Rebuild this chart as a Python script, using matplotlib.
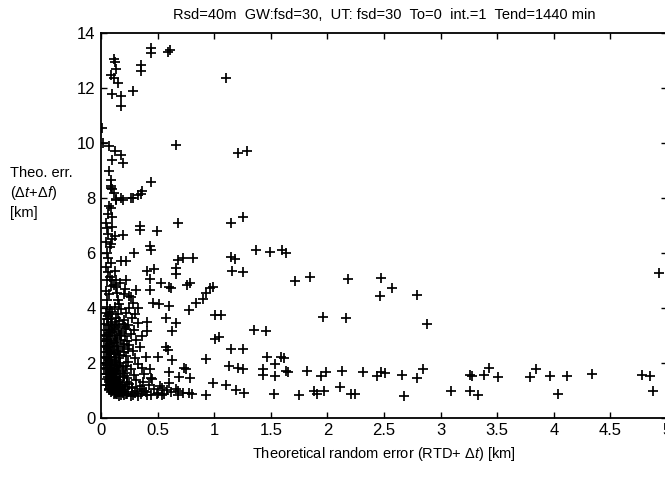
import matplotlib.pyplot as plt

plt.rcParams['font.family'] = ['Liberation Sans', 'DejaVu Sans']
plt.rcParams['mathtext.fontset'] = 'custom'
plt.rcParams['mathtext.rm'] = 'Liberation Sans'
plt.rcParams['mathtext.it'] = 'Liberation Sans:italic'

# --- data: sparse upper / right points ---
x_sparse = [0.11, 0.12, 0.13, 0.09, 0.11, 0.15, 0.10, 0.18, 0.18, 0.28, 0.35, 0.35,
            0.44, 0.44, 0.61, 0.59, 1.10, 0.01, 0.02, 0.07, 0.12, 0.18, 0.19, 0.10,
            0.66, 1.21, 1.29, 0.07, 0.09, 0.09, 0.10, 0.44, 0.35, 0.33, 0.26, 0.18,
            0.13, 0.11, 0.09, 0.13, 0.19, 0.28, 0.36, 0.09, 0.10, 0.10, 0.34, 0.34,
            0.49, 0.68, 1.15, 1.25, 0.12, 0.19, 0.09, 0.43, 0.44, 0.29, 0.18, 0.12,
            0.22, 0.68, 0.72, 0.81, 0.66, 0.66, 0.41, 0.47, 0.43, 1.15, 1.18, 1.16,
            1.25, 1.37, 1.49, 1.60, 0.10, 0.22, 0.13, 0.53, 0.60, 0.62, 0.76, 0.79,
            0.96, 0.99, 0.93, 0.90, 0.84, 0.25, 0.31, 0.43, 0.28, 0.46, 0.51, 0.60,
            0.78, 1.01, 1.06, 0.57, 0.66, 0.63, 0.41, 0.41, 1.01, 1.04, 1.35, 1.46,
            1.15, 1.25, 1.47, 1.59, 0.57, 0.59, 0.50, 0.63, 0.93, 0.73, 0.75, 1.13,
            1.21, 1.25, 1.43, 1.54, 1.43, 1.54, 1.63, 0.60, 0.69, 0.79, 0.60, 0.99,
            1.10, 1.19, 1.26, 1.53, 0.93, 0.78, 0.68, 0.54, 0.49, 0.43, 0.44, 0.37]
y_sparse = [13.07, 12.96, 12.68, 12.46, 12.35, 12.18, 11.79, 11.73, 11.34, 11.88, 12.85, 12.63,
            13.46, 13.26, 13.39, 13.30, 12.35, 10.56, 10.00, 9.89, 9.72, 9.55, 9.27, 9.39,
            9.94, 9.64, 9.72, 9.00, 8.66, 8.44, 8.32, 8.60, 8.16, 8.10, 8.00, 8.00,
            7.95, 8.20, 8.35, 7.94, 7.94, 8.00, 8.25, 7.65, 7.31, 6.96, 6.98, 6.85,
            6.79, 7.08, 7.08, 7.31, 6.62, 6.67, 6.33, 6.27, 6.10, 6.00, 5.69, 5.35,
            5.69, 5.75, 5.83, 5.83, 5.46, 5.23, 5.35, 5.40, 5.06, 5.87, 5.79, 5.35,
            5.29, 6.10, 6.04, 6.10, 5.00, 5.00, 4.77, 4.89, 4.77, 4.71, 4.83, 4.89,
            4.71, 4.77, 4.54, 4.31, 4.19, 4.42, 4.65, 4.65, 4.19, 4.19, 4.14, 4.08,
            3.91, 3.73, 3.73, 3.62, 3.44, 3.15, 3.50, 3.15, 2.87, 2.93, 3.21, 3.15,
            2.52, 2.52, 2.23, 2.23, 2.58, 2.46, 2.23, 2.12, 2.14, 1.83, 1.77, 1.89,
            1.83, 1.79, 1.77, 1.94, 1.54, 1.52, 1.71, 1.66, 1.48, 1.46, 1.25, 1.25,
            1.20, 1.02, 0.91, 0.85, 0.83, 0.91, 0.96, 1.08, 0.85, 1.77, 1.43, 1.31]

# --- points right of x = 1.6 ---
x_right = [1.63, 1.71, 1.85, 2.18, 2.47, 2.57, 2.46, 2.79, 1.96, 2.16, 2.88, 4.93,
           1.62, 1.65, 1.82, 1.94, 1.99, 2.13, 2.31, 2.44, 2.47, 2.51, 2.66, 2.79,
           2.84, 3.26, 3.28, 3.38, 3.43, 3.51, 3.79, 3.84, 3.97, 4.12, 4.34, 4.78,
           4.85, 4.88, 1.75, 1.88, 1.91, 1.97, 2.11, 2.21, 2.24, 2.68, 3.09, 3.26,
           3.33, 4.04]
y_right = [6.00, 4.99, 5.11, 5.05, 5.09, 4.71, 4.42, 4.48, 3.66, 3.62, 3.43, 5.28,
           2.19, 1.68, 1.71, 1.53, 1.68, 1.71, 1.68, 1.51, 1.68, 1.63, 1.57, 1.45,
           1.76, 1.57, 1.53, 1.57, 1.83, 1.49, 1.49, 1.79, 1.53, 1.53, 1.59, 1.57,
           1.53, 0.96, 0.82, 0.99, 0.88, 0.96, 1.11, 0.88, 0.88, 0.80, 0.96, 0.99,
           0.82, 0.85]

# --- dense cluster near the origin ---
x_dense = [0.05, 0.08, 0.12, 0.18, 0.25,
           0.04, 0.07, 0.10, 0.15, 0.22, 0.30,
           0.05, 0.09, 0.13, 0.20, 0.27,
           0.03, 0.06, 0.10, 0.14, 0.19, 0.24, 0.33,
           0.04, 0.07, 0.11, 0.16, 0.22, 0.29,
           0.03, 0.05, 0.08, 0.12, 0.17, 0.21, 0.26, 0.36,
           0.04, 0.06, 0.09, 0.13, 0.18, 0.23, 0.31,
           0.03, 0.05, 0.07, 0.10, 0.14, 0.19, 0.25, 0.34,
           0.04, 0.06, 0.08, 0.11, 0.15, 0.20, 0.28,
           0.03, 0.05, 0.07, 0.09, 0.12, 0.16, 0.22, 0.30, 0.40,
           0.04, 0.06, 0.08, 0.10, 0.13, 0.17, 0.24, 0.33,
           0.03, 0.05, 0.07, 0.09, 0.11, 0.14, 0.19, 0.26, 0.36,
           0.04, 0.06, 0.08, 0.10, 0.12, 0.15, 0.21, 0.29, 0.38,
           0.05, 0.07, 0.09, 0.11, 0.13, 0.17, 0.23, 0.31, 0.45,
           0.06, 0.08, 0.10, 0.12, 0.15, 0.19, 0.25, 0.34, 0.42, 0.52,
           0.07, 0.09, 0.11, 0.14, 0.17, 0.21, 0.27, 0.36, 0.47, 0.58, 0.66,
           0.09, 0.12, 0.15, 0.19, 0.24, 0.30, 0.38, 0.50, 0.62, 0.72,
           0.13, 0.18, 0.23, 0.28, 0.35, 0.44, 0.56, 0.68, 0.80,
           0.05, 0.07, 0.04, 0.09, 0.05, 0.08, 0.06, 0.04, 0.09, 0.06, 0.05, 0.08,
           0.04, 0.10, 0.06, 0.05, 0.04, 0.06, 0.07,
           0.15, 0.20, 0.13, 0.17, 0.26, 0.33, 0.21, 0.14, 0.16, 0.11]
y_dense = [4.02, 3.97, 4.05, 3.95, 4.01,
           3.82, 3.78, 3.84, 3.76, 3.81, 3.79,
           3.61, 3.58, 3.63, 3.57, 3.62,
           3.41, 3.38, 3.43, 3.36, 3.42, 3.39, 3.44,
           3.21, 3.18, 3.23, 3.16, 3.22, 3.19,
           3.01, 2.98, 3.03, 2.96, 3.02, 2.99, 3.04, 2.97,
           2.81, 2.78, 2.83, 2.76, 2.82, 2.79, 2.84,
           2.61, 2.58, 2.63, 2.56, 2.62, 2.59, 2.64, 2.57,
           2.41, 2.38, 2.43, 2.36, 2.42, 2.39, 2.44,
           2.21, 2.18, 2.23, 2.16, 2.22, 2.19, 2.24, 2.17, 2.20,
           2.01, 1.98, 2.03, 1.96, 2.02, 1.99, 2.04, 1.97,
           1.81, 1.78, 1.83, 1.76, 1.82, 1.79, 1.84, 1.77, 1.80,
           1.61, 1.58, 1.63, 1.56, 1.62, 1.59, 1.64, 1.57, 1.60,
           1.41, 1.38, 1.43, 1.36, 1.42, 1.39, 1.44, 1.37, 1.40,
           1.21, 1.18, 1.23, 1.16, 1.22, 1.19, 1.24, 1.17, 1.20, 1.15,
           1.06, 1.03, 1.08, 1.02, 1.07, 1.04, 1.09, 1.03, 1.05, 1.01, 1.06,
           0.93, 0.91, 0.95, 0.90, 0.94, 0.92, 0.96, 0.91, 0.93, 0.90,
           0.85, 0.83, 0.87, 0.82, 0.86, 0.84, 0.88, 0.83, 0.85,
           4.30, 4.50, 4.62, 4.80, 5.00, 5.12, 5.30, 5.50, 5.62, 5.80, 6.00, 6.20,
           6.40, 6.50, 6.70, 6.90, 7.10, 7.40, 7.70,
           4.30, 4.50, 5.00, 4.90, 4.40, 4.00, 4.70, 4.55, 4.15, 4.85]

# --- extra points filling the blackest part of the cluster ---
x_fill = [0.06, 0.09, 0.12, 0.16, 0.21, 0.07, 0.10, 0.14, 0.18, 0.05, 0.08, 0.11,
          0.15, 0.20, 0.06, 0.09, 0.13, 0.17, 0.24, 0.07, 0.10, 0.12, 0.16, 0.05,
          0.08, 0.11, 0.14, 0.19, 0.06, 0.09, 0.13, 0.17, 0.22, 0.07, 0.10, 0.12,
          0.15, 0.20, 0.08, 0.11, 0.14, 0.18, 0.23, 0.10, 0.13, 0.16, 0.21, 0.27,
          0.11, 0.14, 0.18, 0.22, 0.32, 0.40, 0.16, 0.20, 0.26, 0.33, 0.41, 0.54,
          0.04, 0.07, 0.05, 0.08, 0.06, 0.04, 0.07, 0.05]
y_fill = [3.70, 3.50, 3.30, 3.52, 3.29, 3.10, 3.12, 2.90, 3.08, 2.88, 2.70, 2.72,
          2.50, 2.70, 2.50, 2.31, 2.33, 2.30, 2.52, 2.11, 1.92, 2.12, 1.90, 1.92,
          1.70, 1.72, 1.91, 1.69, 1.50, 1.51, 1.70, 1.49, 1.89, 1.31, 1.30, 1.49,
          1.32, 1.51, 1.12, 1.11, 1.29, 1.11, 1.30, 0.98, 0.97, 0.99, 1.12, 1.11,
          0.86, 0.88, 0.96, 0.87, 0.98, 0.95, 0.80, 0.82, 0.80, 0.81, 0.82, 0.84,
          2.00, 2.40, 2.80, 3.20, 3.60, 1.20, 1.00, 1.60]

title = 'Rsd=40m  GW:fsd=30,  UT: fsd=30  To=0  int.=1  Tend=1440 min'
x_ticks = [0, 0.5, 1, 1.5, 2, 2.5, 3, 3.5, 4, 4.5, 5]
x_tick_labels = ['0', '0.5', '1', '1.5', '2', '2.5', '3', '3.5', '4', '4.5', '5']
y_ticks = [0, 2, 4, 6, 8, 10, 12, 14]

fig = plt.figure(figsize=(6.65, 4.95), dpi=100)
ax = fig.add_axes([0.152, 0.156, 0.851, 0.777])

for xs, ys in [(x_sparse, y_sparse), (x_right, y_right), (x_dense, y_dense), (x_fill, y_fill)]:
    ax.scatter(xs, ys, marker='+', s=60, color='black', linewidths=1.25)

ax.set_xlim(0, 5)
ax.set_ylim(0, 14)
ax.set_xticks(x_ticks)
ax.set_xticklabels(x_tick_labels)
ax.set_yticks(y_ticks)
ax.tick_params(direction='in', top=True, right=True, length=4, labelsize=12, width=1, pad=4)
for s in ax.spines.values():
    s.set_linewidth(1.3)

ax.set_title(title, fontsize=10.5, pad=10)
ax.set_xlabel(r'Theoretical random error (RTD+ $\Delta t$) [km]', fontsize=10.5, labelpad=5)
fig.text(0.015, 0.665, 'Theo. err.\n' + r'($\Delta t$+$\Delta f$)' + '\n[km]',
         fontsize=10.5, ha='left', va='top', linespacing=1.35)

plt.savefig('out.png', dpi=100)
